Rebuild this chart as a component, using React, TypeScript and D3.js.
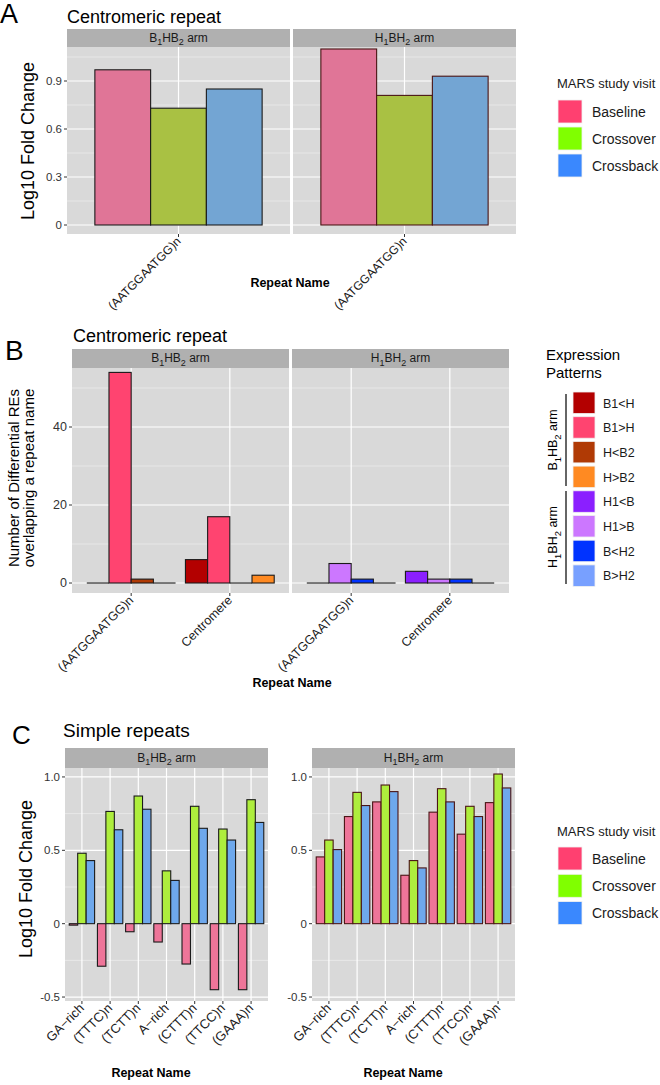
import React from "react";
import * as d3 from "d3";

const FONT = "'Liberation Sans', Arial, Helvetica, sans-serif";

// ---------- data ----------
const visits = ["Baseline", "Crossover", "Crossback"];
const visitLegendColors = ["#FF4070", "#80FF00", "#3A88FE"];
const visitColorsA = ["#E07597", "#A9C143", "#73A5D3"];
const visitColorsC = ["#EE7599", "#AEEE3D", "#6EA8EC"];

const armNames = ["B1HB2 arm", "H1BH2 arm"];

// Panel A
const categoriesA = ["(AATGGAATGG)n"];
const centroB1HB2 = [0.97, 0.73, 0.85]; // Baseline, Crossover, Crossback
const centroH1BH2 = [1.1, 0.81, 0.93];
const ticksA = [0, 0.3, 0.6, 0.9];
const tickLabelsA = ["0", "0.3", "0.6", "0.9"];

// Panel B
const categoriesB = ["(AATGGAATGG)n", "Centromere"];
const patternsB1HB2 = ["B1<H", "B1>H", "H<B2", "H>B2"];
const patternsH1BH2 = ["H1<B", "H1>B", "B<H2", "B>H2"];
const patternColorsB1HB2 = ["#B30000", "#FF4470", "#B03A05", "#FF8A22"];
const patternColorsH1BH2 = ["#8B1FFF", "#CC77FF", "#0033FF", "#78A0FF"];
const countsAATGG_B1HB2 = [0, 54, 1, 0];
const countsCentromere_B1HB2 = [6, 17, 0, 2];
const countsAATGG_H1BH2 = [0, 5, 1, 0];
const countsCentromere_H1BH2 = [3, 1, 1, 0];
const ticksB = [0, 20, 40];
const tickLabelsB = ["0", "20", "40"];

// Panel C
const categoriesC = ["GA\u2212rich", "(TTTC)n", "(TCTT)n", "A\u2212rich", "(CTTT)n", "(TTCC)n", "(GAAA)n"];
const simpleB1HB2Baseline = [-0.01, -0.29, -0.055, -0.125, -0.275, -0.45, -0.45];
const simpleB1HB2Crossover = [0.48, 0.765, 0.87, 0.36, 0.8, 0.645, 0.845];
const simpleB1HB2Crossback = [0.43, 0.64, 0.78, 0.295, 0.65, 0.57, 0.69];
const simpleH1BH2Baseline = [0.455, 0.73, 0.83, 0.33, 0.76, 0.61, 0.825];
const simpleH1BH2Crossover = [0.57, 0.895, 0.945, 0.43, 0.92, 0.8, 1.02];
const simpleH1BH2Crossback = [0.505, 0.805, 0.9, 0.38, 0.83, 0.73, 0.925];
const ticksC = [-0.5, 0, 0.5, 1.0];
const tickLabelsC = ["-0.5", "0", "0.5", "1.0"];

// ---------- helpers ----------
function subText(s: string, fs: number) {
  const parts = s.split(/(\d)/).filter((p) => p !== "");
  const out: any[] = [];
  let shifted = false;
  parts.forEach((p, i) => {
    if (/^\d$/.test(p)) {
      out.push(
        <tspan key={i} fontSize={fs * 0.75} dy={shifted ? 0 : fs * 0.3}>
          {p}
        </tspan>
      );
      shifted = true;
    } else {
      out.push(
        <tspan key={i} dy={shifted ? -fs * 0.3 : 0}>
          {p}
        </tspan>
      );
      shifted = false;
    }
  });
  return out;
}

function transpose(rows: number[][]) {
  return rows[0].map((_, j) => rows.map((r) => r[j]));
}

type FacetProps = {
  x0: number;
  x1: number;
  stripTop: number;
  stripBottom: number;
  panelBottom: number;
  y: d3.ScaleLinear<number, number>;
  yTicks: number[];
  yTickLabels: string[];
  showY: boolean;
  yFont: number;
  cats: string[];
  series: number[][];
  colors: string[];
  stroke: string;
  xFont: number;
  strip: string;
  stripFont: number;
};

function Facet(p: FacetProps) {
  const n = p.cats.length;
  const x = d3.scaleLinear().domain([0.4, n + 0.6]).range([p.x0, p.x1]);
  const k = p.series.length;
  const w = 0.9 / k;
  const pxPerUnit = x(1) - x(0);
  const minor: number[] = [];
  for (let i = 0; i < p.yTicks.length - 1; i++) minor.push((p.yTicks[i] + p.yTicks[i + 1]) / 2);
  const step = p.yTicks[1] - p.yTicks[0];
  minor.push(p.yTicks[p.yTicks.length - 1] + step / 2);
  minor.push(p.yTicks[0] - step / 2);
  const [dLo, dHi] = p.y.domain();
  const minorIn = minor.filter((m) => m > dLo && m < dHi);
  const y0 = p.y(0);
  return (
    <g>
      <rect x={p.x0} y={p.stripTop} width={p.x1 - p.x0} height={p.stripBottom - p.stripTop} fill="#B0B0B0" />
      <text
        x={(p.x0 + p.x1) / 2}
        y={(p.stripTop + p.stripBottom) / 2 + p.stripFont * 0.3}
        textAnchor="middle"
        fontSize={p.stripFont}
        fill="#1a1a1a"
      >
        {subText(p.strip, p.stripFont)}
      </text>
      <rect x={p.x0} y={p.stripBottom} width={p.x1 - p.x0} height={p.panelBottom - p.stripBottom} fill="#D9D9D9" />
      {minorIn.map((m, i) => (
        <line key={"mn" + i} x1={p.x0} x2={p.x1} y1={p.y(m)} y2={p.y(m)} stroke="#F2F2F2" strokeWidth={0.6} />
      ))}
      {p.yTicks.map((t, i) => (
        <line key={"mj" + i} x1={p.x0} x2={p.x1} y1={p.y(t)} y2={p.y(t)} stroke="#FFFFFF" strokeWidth={1.2} />
      ))}
      {p.cats.map((c, i) => (
        <line key={"vx" + i} x1={x(i + 1)} x2={x(i + 1)} y1={p.stripBottom} y2={p.panelBottom} stroke="#FFFFFF" strokeWidth={1.2} />
      ))}
      {p.series.map((vals, j) =>
        vals.map((v, i) => {
          const bx = x(i + 1 - 0.45 + j * w);
          const bw = w * pxPerUnit;
          if (v === 0) {
            return <line key={`b${j}-${i}`} x1={bx} x2={bx + bw} y1={y0} y2={y0} stroke={p.stroke} strokeWidth={1.1} />;
          }
          const yt = p.y(Math.max(0, v));
          const yb = p.y(Math.min(0, v));
          return (
            <rect
              key={`b${j}-${i}`}
              x={bx}
              y={yt}
              width={bw}
              height={Math.max(0.8, yb - yt)}
              fill={p.colors[j]}
              stroke={p.stroke}
              strokeWidth={1.1}
            />
          );
        })
      )}
      {p.showY &&
        p.yTicks.map((t, i) => (
          <g key={"yt" + i}>
            <line x1={p.x0 - 3} x2={p.x0} y1={p.y(t)} y2={p.y(t)} stroke="#333" strokeWidth={1} />
            <text x={p.x0 - 5} y={p.y(t) + p.yFont * 0.35} textAnchor="end" fontSize={p.yFont} fill="#333">
              {p.yTickLabels[i]}
            </text>
          </g>
        ))}
      {p.cats.map((c, i) => (
        <g key={"xt" + i}>
          <line x1={x(i + 1)} x2={x(i + 1)} y1={p.panelBottom} y2={p.panelBottom + 3} stroke="#333" strokeWidth={1} />
          <text
            transform={`translate(${x(i + 1) + 3},${p.panelBottom + 8}) rotate(-45)`}
            textAnchor="end"
            fontSize={p.xFont}
            fill="#1a1a1a"
          >
            {c}
          </text>
        </g>
      ))}
    </g>
  );
}

function VisitLegend({ x, titleY, keyY, step }: { x: number; titleY: number; keyY: number; step: number }) {
  return (
    <g>
      <text x={x} y={titleY} fontSize={13} fill="#1a1a1a">
        MARS study visit
      </text>
      {visits.map((v, i) => (
        <g key={v}>
          <rect x={x + 1} y={keyY + i * step} width={24} height={23} fill={visitLegendColors[i]} stroke="#F0F0F0" strokeWidth={0.8} />
          <text x={x + 35} y={keyY + i * step + 16.5} fontSize={14} fill="#1a1a1a">
            {v}
          </text>
        </g>
      ))}
    </g>
  );
}

export default function App() {
  const yA = d3.scaleLinear().domain([-0.05625, 1.1125]).range([234, 47]);
  const yB = d3.scaleLinear().domain([-2.56, 55.13]).range([593, 368]);
  const yC = d3.scaleLinear().domain([-0.527, 1.061]).range([1001, 768]);

  const seriesB1 = transpose([countsAATGG_B1HB2, countsCentromere_B1HB2]);
  const seriesB2 = transpose([countsAATGG_H1BH2, countsCentromere_H1BH2]);

  const patternAll = [...patternsB1HB2, ...patternsH1BH2];
  const patternColorAll = [...patternColorsB1HB2, ...patternColorsH1BH2];
  const keyStep = 24.7;
  const keyTop = 392;

  return (
    <svg width={660} height={1085} style={{ display: "block", position: "absolute", left: 0, top: 0 }} fontFamily={FONT}>
      <rect x={0} y={0} width={660} height={1085} fill="#FFFFFF" />

      {/* ---------- Panel A ---------- */}
      <text x={0} y={23} fontSize={27} fill="#000">A</text>
      <text x={67} y={22.5} fontSize={18} fill="#000">Centromeric repeat</text>
      <Facet
        x0={67} x1={290} stripTop={29} stripBottom={47} panelBottom={234}
        y={yA} yTicks={ticksA} yTickLabels={tickLabelsA} showY={true} yFont={11.5}
        cats={categoriesA}
        series={[[centroB1HB2[0]], [centroB1HB2[1]], [centroB1HB2[2]]]}
        colors={visitColorsA} stroke="#1a1a1a" xFont={12} strip={armNames[0]} stripFont={12}
      />
      <Facet
        x0={293} x1={516} stripTop={29} stripBottom={47} panelBottom={234}
        y={yA} yTicks={ticksA} yTickLabels={tickLabelsA} showY={false} yFont={11.5}
        cats={categoriesA}
        series={[[centroH1BH2[0]], [centroH1BH2[1]], [centroH1BH2[2]]]}
        colors={visitColorsA} stroke="#4a1515" xFont={12} strip={armNames[1]} stripFont={12}
      />
      <text transform="translate(34,141) rotate(-90)" textAnchor="middle" fontSize={18} fill="#000">
        Log10 Fold Change
      </text>
      <text x={290} y={287} textAnchor="middle" fontSize={12.5} fontWeight="bold" fill="#000">
        Repeat Name
      </text>
      <VisitLegend x={557} titleY={88} keyY={100} step={27} />

      {/* ---------- Panel B ---------- */}
      <text x={5} y={360} fontSize={28} fill="#000">B</text>
      <text x={73} y={342} fontSize={18} fill="#000">Centromeric repeat</text>
      <Facet
        x0={72} x1={289} stripTop={349} stripBottom={368} panelBottom={593}
        y={yB} yTicks={ticksB} yTickLabels={tickLabelsB} showY={true} yFont={12.5}
        cats={categoriesB} series={seriesB1} colors={patternColorsB1HB2} stroke="#1a1a1a"
        xFont={12.5} strip={armNames[0]} stripFont={12}
      />
      <Facet
        x0={292} x1={509} stripTop={349} stripBottom={368} panelBottom={593}
        y={yB} yTicks={ticksB} yTickLabels={tickLabelsB} showY={false} yFont={12.5}
        cats={categoriesB} series={seriesB2} colors={patternColorsH1BH2} stroke="#1a1a1a"
        xFont={12.5} strip={armNames[1]} stripFont={12}
      />
      <g transform="translate(0,478) rotate(-90)">
        <text x={0} y={18.5} textAnchor="middle" fontSize={15} fill="#000">Number of Differential REs</text>
        <text x={0} y={33.5} textAnchor="middle" fontSize={15} fill="#000">overlapping a repeat name</text>
      </g>
      <text x={292} y={687} textAnchor="middle" fontSize={12.5} fontWeight="bold" fill="#000">
        Repeat Name
      </text>
      {/* Legend B */}
      <text x={546} y={360} fontSize={15} fill="#000">Expression</text>
      <text x={546} y={378} fontSize={15} fill="#000">Patterns</text>
      {patternAll.map((pName, i) => (
        <g key={pName}>
          <rect x={573} y={keyTop + i * keyStep} width={22} height={21.5} fill={patternColorAll[i]} stroke="#F0F0F0" strokeWidth={0.8} />
          <text x={603} y={keyTop + i * keyStep + 15.5} fontSize={12.5} fill="#1a1a1a">{pName}</text>
        </g>
      ))}
      <line x1={566} x2={566} y1={394} y2={486} stroke="#333" strokeWidth={1.5} />
      <line x1={566} x2={566} y1={491} y2={584} stroke="#333" strokeWidth={1.5} />
      <text transform="translate(557,440) rotate(-90)" textAnchor="middle" fontSize={12.5} fill="#000">
        {subText(armNames[0], 12.5)}
      </text>
      <text transform="translate(557,537) rotate(-90)" textAnchor="middle" fontSize={12.5} fill="#000">
        {subText(armNames[1], 12.5)}
      </text>

      {/* ---------- Panel C ---------- */}
      <text x={12} y={744} fontSize={26} fill="#000">C</text>
      <text x={63} y={737} fontSize={19} fill="#000">Simple repeats</text>
      <Facet
        x0={65} x1={268} stripTop={748} stripBottom={768} panelBottom={1001}
        y={yC} yTicks={ticksC} yTickLabels={tickLabelsC} showY={true} yFont={11.5}
        cats={categoriesC}
        series={[simpleB1HB2Baseline, simpleB1HB2Crossover, simpleB1HB2Crossback]}
        colors={visitColorsC} stroke="#1a1a1a" xFont={13} strip={armNames[0]} stripFont={12}
      />
      <Facet
        x0={312} x1={515} stripTop={748} stripBottom={768} panelBottom={1001}
        y={yC} yTicks={ticksC} yTickLabels={tickLabelsC} showY={true} yFont={11.5}
        cats={categoriesC}
        series={[simpleH1BH2Baseline, simpleH1BH2Crossover, simpleH1BH2Crossback]}
        colors={visitColorsC} stroke="#4a1515" xFont={13} strip={armNames[1]} stripFont={12}
      />
      <text transform="translate(32,879) rotate(-90)" textAnchor="middle" fontSize={18} fill="#000">
        Log10 Fold Change
      </text>
      <text x={151} y={1077} textAnchor="middle" fontSize={12.5} fontWeight="bold" fill="#000">
        Repeat Name
      </text>
      <text x={403} y={1077} textAnchor="middle" fontSize={12.5} fontWeight="bold" fill="#000">
        Repeat Name
      </text>
      <VisitLegend x={557} titleY={836} keyY={847} step={27.3} />
    </svg>
  );
}
